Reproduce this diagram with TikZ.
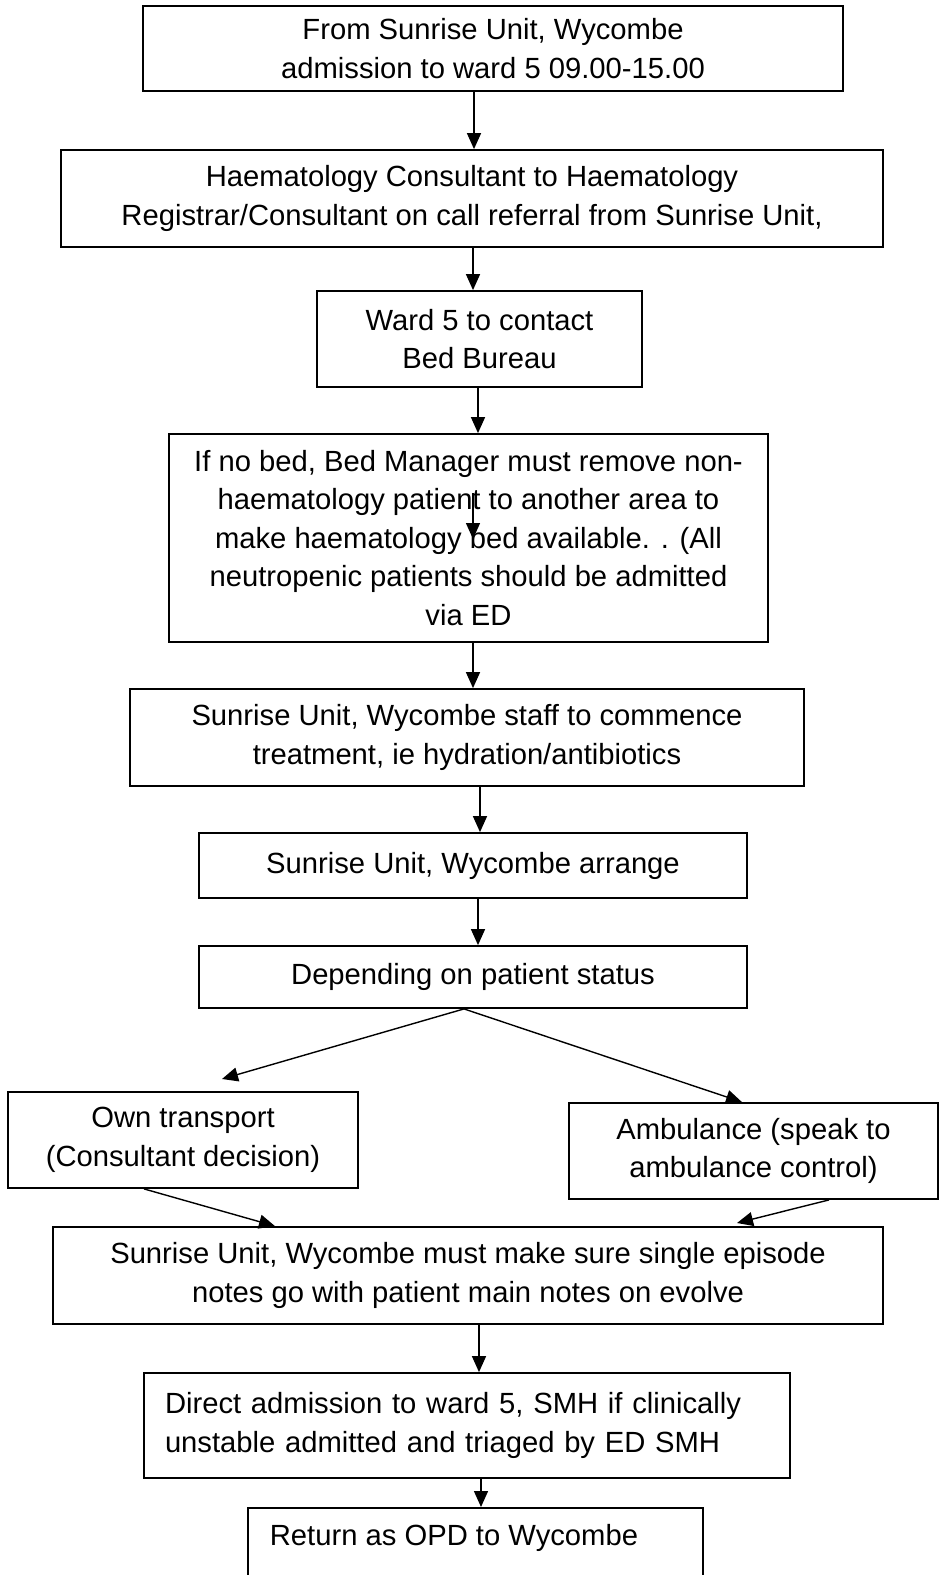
\documentclass[tikz,border=0pt]{standalone}
\usepackage{fontspec}
\setmainfont{Liberation Sans}
\usetikzlibrary{arrows.meta}
\begin{document}
\begin{tikzpicture}[x=1pt,y=-1pt,
  box/.style={draw, line width=1.8pt, inner sep=0pt, align=center,
    font=\fontsize{29.2pt}{38.5pt}\selectfont},
  flow/.style={line width=1.4pt, -{Triangle[length=16pt,width=14pt]}}]
  % page
  \path[use as bounding box, fill=white] (0,0) rectangle (939,1575);

  % steps of the pathway
  \node[box, minimum width=700pt, minimum height=85pt] (b1) at (493,48.5)
    {From Sunrise Unit, Wycombe\\admission to ward 5 09.00-15.00};
  \node[box, minimum width=822pt, minimum height=97pt] (b2) at (472,198.5)
    {Haematology Consultant to Haematology\\Registrar/Consultant on call referral from Sunrise Unit,};
  \node[box, minimum width=325pt, minimum height=96pt] (b3) at (479.5,339)
    {Ward 5 to contact\\Bed Bureau};
  \node[box, minimum width=599pt, minimum height=208pt] (b4) at (468.5,538)
    {If no bed, Bed Manager must remove non-\\haematology patient to another area to\\make haematology bed available. . (All\\neutropenic patients should be admitted\\via ED};
  \node[box, minimum width=674pt, minimum height=97pt] (b5) at (467,737.5)
    {Sunrise Unit, Wycombe staff to commence\\treatment, ie hydration/antibiotics};
  \node[box, minimum width=548pt, minimum height=65pt] (b6) at (473,865.5)
    {Sunrise Unit, Wycombe arrange};
  \node[box, minimum width=548pt, minimum height=62pt] (b7) at (473,977)
    {Depending on patient status};
  \node[box, minimum width=350pt, minimum height=96pt] (b8) at (183,1140)
    {Own transport\\(Consultant decision)};
  \node[box, minimum width=369pt, minimum height=96pt] (b9) at (753.5,1151)
    {Ambulance (speak to\\ambulance control)};
  \node[box, minimum width=830pt, minimum height=97pt] (b10) at (468,1275.5)
    {Sunrise Unit, Wycombe must make sure single episode\\notes go with patient main notes on evolve};
  \node[box, align=left, text width=604pt, inner xsep=21pt, minimum height=105pt] (b11) at (467,1425.5)
    {Direct admission to ward 5, SMH if clinically\\unstable admitted and triaged by ED SMH};
  \node[box, inner xsep=22pt, inner ysep=16pt, anchor=north west] (b12) at (247,1507)
    {\parbox[t][100pt][t]{411pt}{Return as OPD to Wycombe}};

  % x positions of the vertical connectors
  \coordinate (x1) at (474,0);
  \coordinate (x2) at (473,0);
  \coordinate (x3) at (478,0);
  \coordinate (x4) at (473,0);
  \coordinate (x5) at (480,0);
  \coordinate (x6) at (478,0);
  \coordinate (x10) at (479,0);
  \coordinate (x11) at (481,0);

  \draw[flow] (x1 |- b1.south) -- (x1 |- b2.north);
  \draw[flow] (x2 |- b2.south) -- (x2 |- b3.north);
  \draw[flow] (x3 |- b3.south) -- (x3 |- b4.north);
  \draw[flow] (x4 |- b4.south) -- (x4 |- b5.north);
  \draw[flow] (x5 |- b5.south) -- (x5 |- b6.north);
  \draw[flow] (x6 |- b6.south) -- (x6 |- b7.north);
  \draw[flow] (x10 |- b10.south) -- (x10 |- b11.north);
  \draw[flow] (x11 |- b11.south) -- (x11 |- b12.north);

  % short arrow over the text of the bed box
  \coordinate (s1) at (473,493);
  \coordinate (s2) at (473,539);
  \draw[flow] (s1) -- (s2);

  % branching to the two transport options
  \coordinate (k7) at (464,0);
  \coordinate (lt) at (222,1079);
  \coordinate (k9) at (742,0);
  \draw[flow] (k7 |- b7.south) -- (lt);
  \draw[flow] (k7 |- b7.south) -- (k9 |- b9.north);

  % joining back into the notes box
  \coordinate (k8) at (144,0);
  \coordinate (j8) at (275,0);
  \coordinate (k9b) at (829,0);
  \coordinate (rt) at (737,1223);
  \draw[flow] (k8 |- b8.south) -- (j8 |- b10.north);
  \draw[flow] (k9b |- b9.south) -- (rt);
\end{tikzpicture}
\end{document}
